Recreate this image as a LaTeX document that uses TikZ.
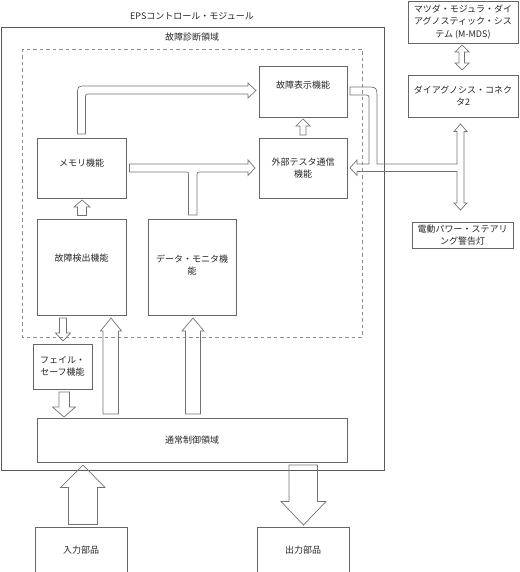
\documentclass[tikz,border=0pt]{standalone}
\usepackage{fontspec}
\newfontfamily\jpfont{Noto Sans CJK JP}

\tikzset{
  lbl/.style={text=black!85, font=\jpfont\fontsize{9}{12.5}\selectfont},
  box/.style={lbl, draw=black!60, line width=0.8pt, inner sep=2pt, align=center},
  blk/.style={draw=black!55, line width=0.7pt, line join=miter},
  textup/.style={text depth=#1},
}

\begin{document}
\begin{tikzpicture}[x=1pt, y=-1pt]
    \useasboundingbox (0,0) rectangle (519,572);

    % module and diagnosis area
    \draw [black!65, line width=0.8pt] (1,27) rectangle (384,470);
    \node [lbl] (modlbl) at (192,16) {EPSコントロール・モジュール};
    \draw [black!45, line width=0.9pt, dash pattern=on 3.5pt off 3pt] (22,49) rectangle (362,337);
    \node [lbl] (diaglbl) at (192,37) {故障診断領域};

    % function boxes
    \node [box, minimum width=88pt, minimum height=51pt, textup=13pt] (disp) at (303,91.5) {故障表示機能};
    \node [box, minimum width=89pt, minimum height=60pt, textup=11pt] (mem) at (81.5,168) {メモリ機能};
    \node [box, minimum width=88pt, minimum height=60pt] (ext) at (303,168) {外部テスタ通信\\機能};
    \node [box, minimum width=89pt, minimum height=96pt, textup=19pt] (det) at (81.5,267) {故障検出機能};
    \node [box, minimum width=88pt, minimum height=96pt, textup=5pt] (mon) at (192,267) {データ・モニタ機\\能};
    \node [box, minimum width=59pt, minimum height=45pt] (fail) at (62.5,366.5) {フェイル・\\セーフ機能};
    \node [box, minimum width=310pt, minimum height=44pt] (ctrl) at (192,440) {通常制御領域};
    \node [box, minimum width=92pt, minimum height=47pt] (inp) at (81,550.5) {入力部品};
    \node [box, minimum width=92pt, minimum height=47pt] (outp) at (303,550.5) {出力部品};

    % outside boxes
    \node [box, minimum width=110pt, minimum height=42pt] (mds) at (463,22) {マツダ・モジュラ・ダイ\\アグノスティック・シス\\テム (M-MDS)};
    \node [box, minimum width=110pt, minimum height=42pt] (conn) at (463,96) {ダイアグノシス・コネク\\タ2};
    \node [box, minimum width=101pt, minimum height=26pt] (lamp) at (462.5,235) {電動パワー・ステアリ\\ング警告灯};

    % block arrows inside diagnosis area
    \draw [blk] (300,135) -- (300,126) -- (296,126) -- (303,119) -- (310,126) -- (306,126) -- (306,135) -- cycle;
    \draw [blk] (77.5,215.5) -- (77.5,207) -- (74,207) -- (82,200) -- (90,207) -- (86.5,207) -- (86.5,215.5) -- cycle;
    \draw [blk] (77.5,134) -- (77.5,95) .. controls (77.5,86) .. (86.5,86) -- (248,86) -- (248,83) -- (256,90.5)
        -- (248,98) -- (248,94) -- (90,94) .. controls (85.5,94) .. (85.5,98.5) -- (85.5,134) -- cycle;
    \draw [blk] (129.5,164) -- (248,164) -- (248,160) -- (255,168) -- (248,175.5) -- (248,172) -- (202,172)
        .. controls (197,172) .. (197,177) -- (197,215) -- (188.5,215) -- (188.5,174.5)
        .. controls (188.5,172) .. (186,172) -- (129.5,172) -- cycle;

    % display / tester / connector / lamp
    \draw [blk] (350,87) -- (365,87) .. controls (377,87) .. (377,99) -- (377,164) -- (457,164) -- (457,131.5)
        -- (454,131.5) -- (460.5,124) -- (467,131.5) -- (464,131.5) -- (464,203) -- (467,203) -- (460.5,210)
        -- (454,203) -- (457,203) -- (457,171.5) -- (357,171.5) -- (357,175.5) -- (350,167.75) -- (357,160)
        -- (357,164) -- (369,164) -- (369,100) .. controls (369,95) .. (364,95) -- (350,95) -- cycle;
    \draw [blk] (459,52) -- (455,52) -- (462,45) -- (469,52) -- (464.5,52) -- (464.5,63) -- (469,63) -- (462,70)
        -- (455,63) -- (459,63) -- cycle;

    % fail-safe and normal control
    \draw [blk] (59.5,318) -- (66.5,318) -- (66.5,333) -- (70.5,333) -- (63,341) -- (55.5,333) -- (59.5,333) -- cycle;
    \draw [blk] (59,392) -- (69.5,392) -- (69.5,407) -- (75.5,407) -- (64,417) -- (52.5,407) -- (59,407) -- cycle;
    \draw [blk] (103,414) -- (103,331) -- (100.5,331) -- (111,318) -- (121.5,331) -- (118.5,331) -- (118.5,414) -- cycle;
    \draw [blk] (185.5,414) -- (185.5,331) -- (182,331) -- (193,318) -- (204,331) -- (200.5,331) -- (200.5,414) -- cycle;

    % input / output
    \draw [blk] (68.5,524.5) -- (68.5,487.5) -- (60.5,487.5) -- (83,465) -- (105,487.5) -- (97.5,487.5) -- (97.5,524.5) -- cycle;
    \draw [blk] (289,465) -- (317.5,465) -- (317.5,501.5) -- (326,501.5) -- (303.5,525) -- (281,501.5) -- (289,501.5) -- cycle;
\end{tikzpicture}
\end{document}
